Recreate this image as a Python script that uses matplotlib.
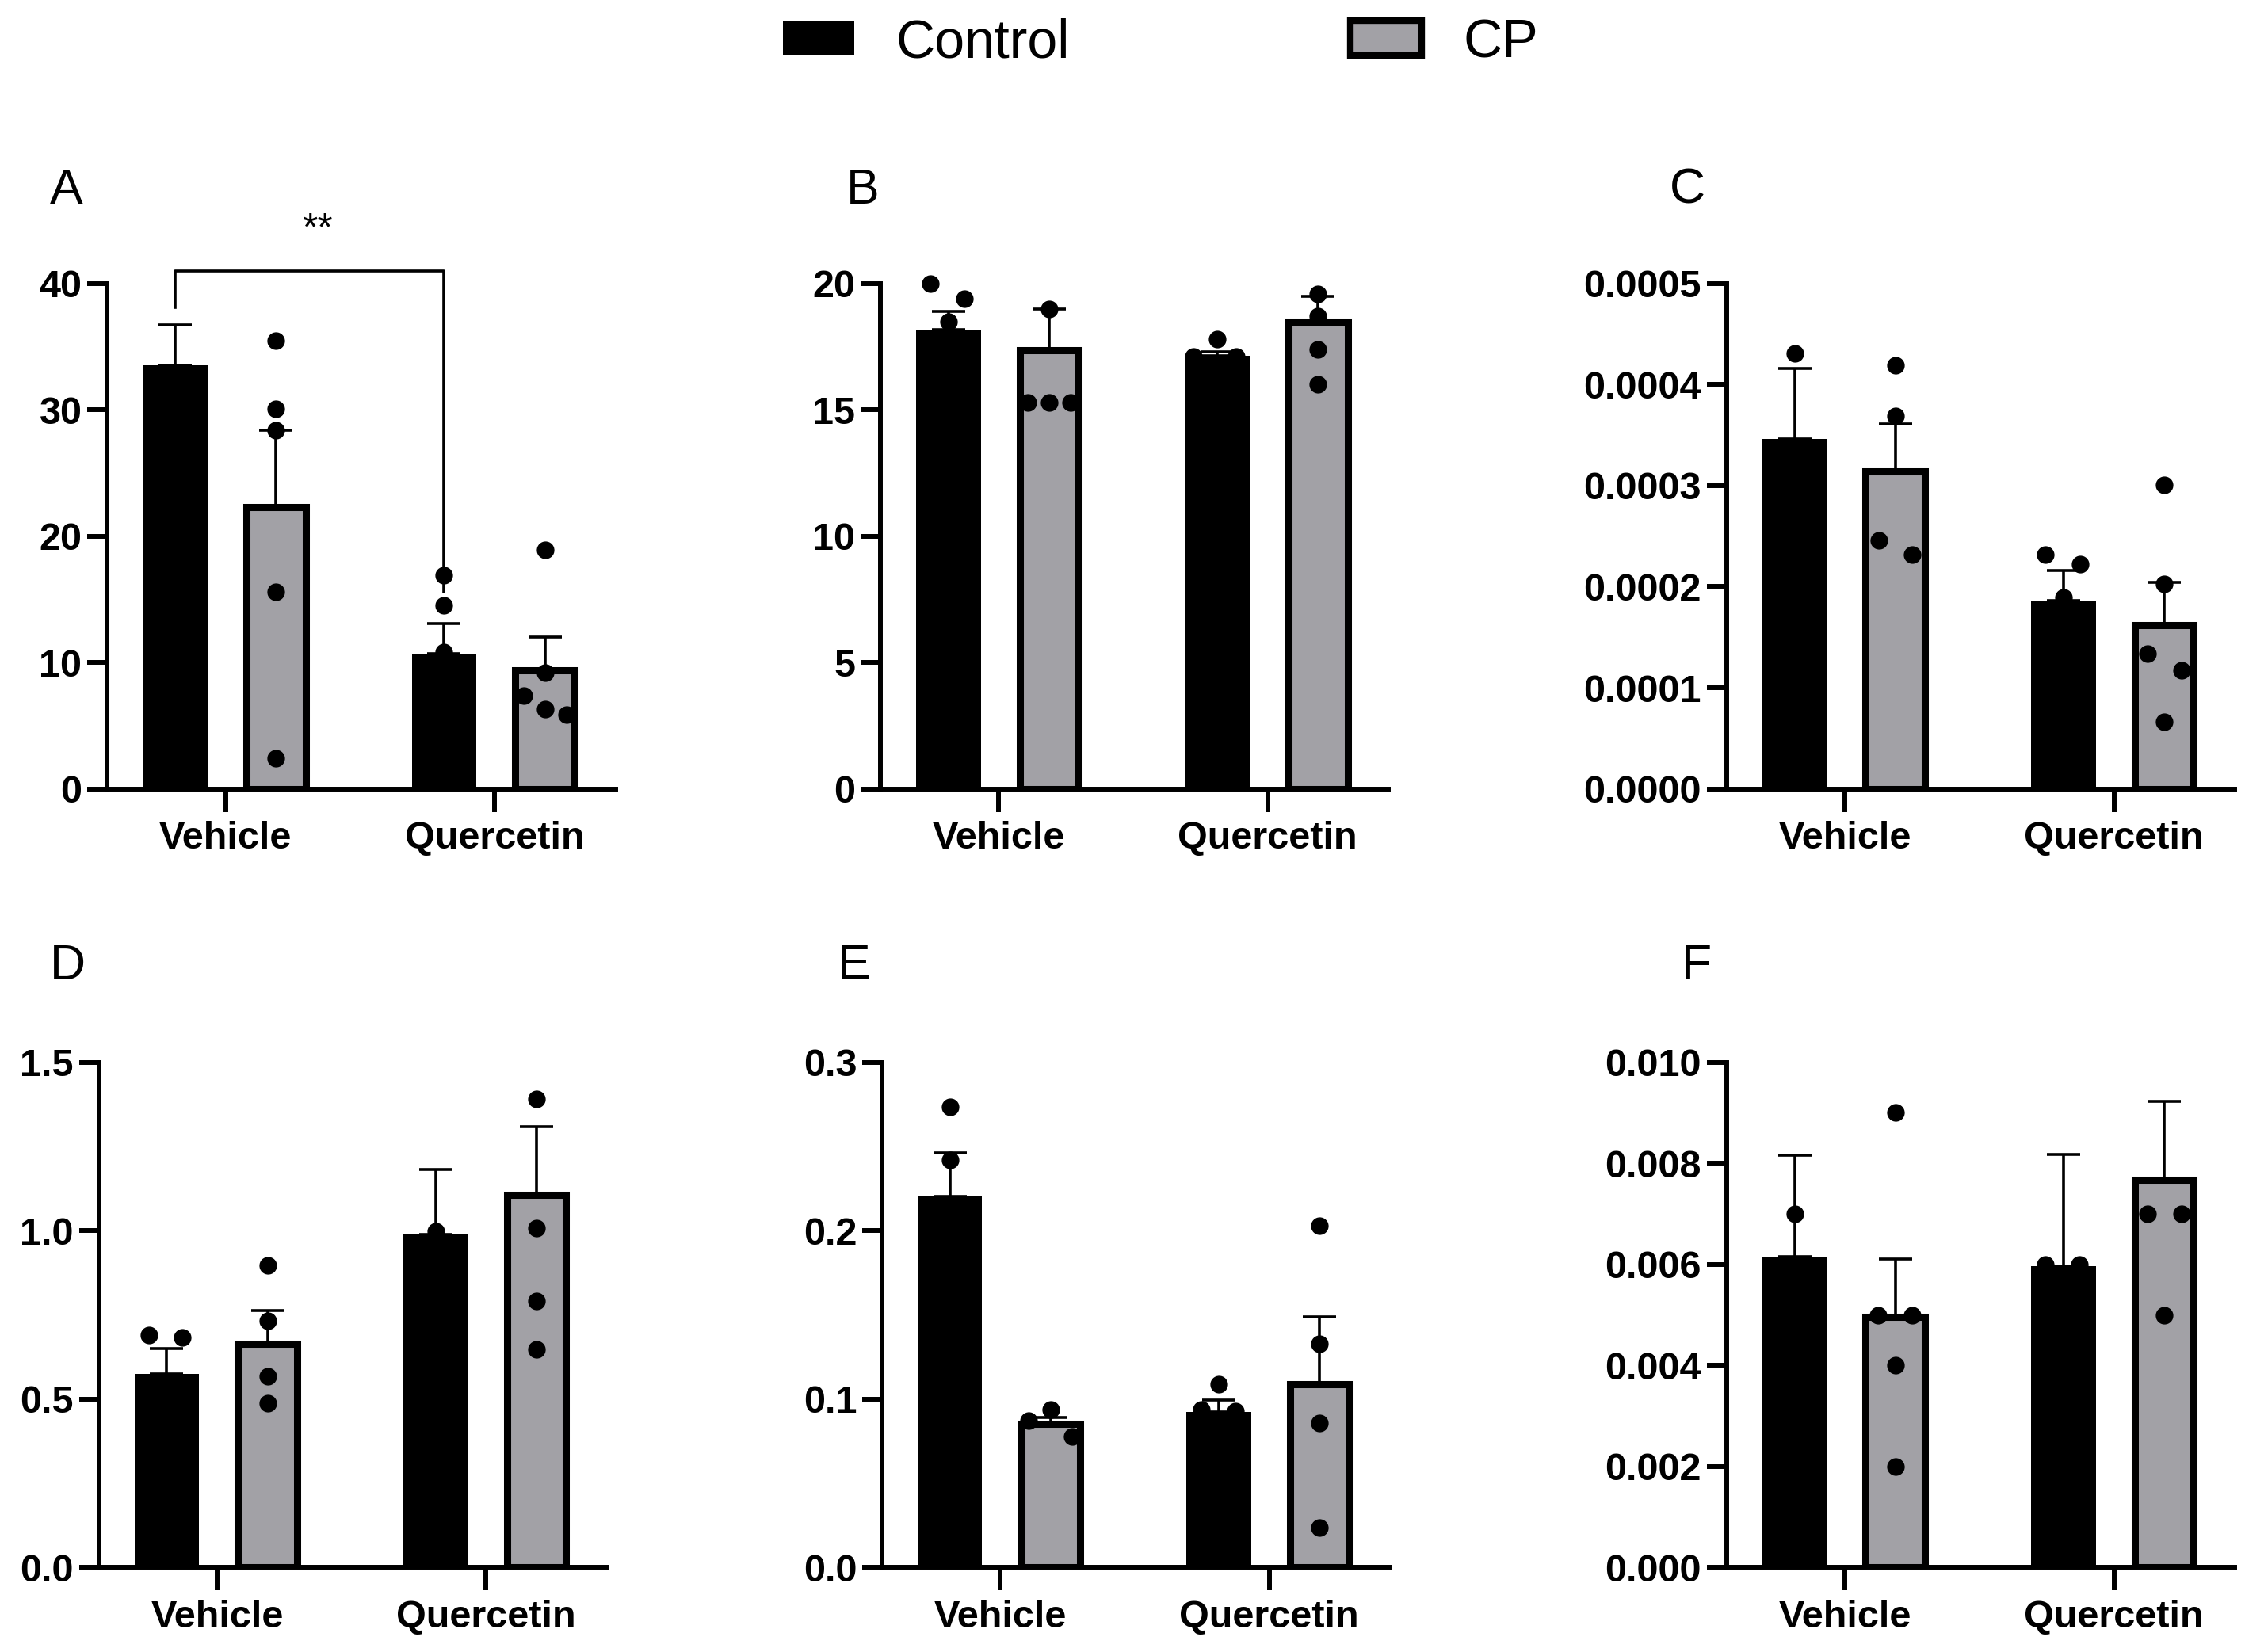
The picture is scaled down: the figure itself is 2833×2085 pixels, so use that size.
import matplotlib
matplotlib.use("Agg")
import matplotlib.pyplot as plt
from matplotlib.patches import Patch
from matplotlib.ticker import FormatStrFormatter
import numpy as np

plt.rcParams['font.family'] = ['Liberation Sans', 'DejaVu Sans']

black = '#000000'
grey = '#a2a1a6'

groups = ['Vehicle', 'Quercetin']
series = ['Control', 'CP']

# means and SEM per panel: [Vehicle, Quercetin]
ctrl_mean = {
    'A': [33.5, 10.7], 'B': [18.16, 17.13], 'C': [0.000346, 0.000186],
    'D': [0.574, 0.989], 'E': [0.2204, 0.0926], 'F': [0.00616, 0.00597],
}
ctrl_sem = {
    'A': [3.2, 2.4], 'B': [0.74, 0.17], 'C': [0.000070, 0.000030],
    'D': [0.076, 0.193], 'E': [0.0256, 0.0069], 'F': [0.00200, 0.00221],
}
cp_mean = {
    'A': [22.3, 9.4], 'B': [17.35, 18.5], 'C': [0.000314, 0.000162],
    'D': [0.664, 1.106], 'E': [0.0852, 0.109], 'F': [0.00496, 0.00768],
}
cp_sem = {
    'A': [6.1, 2.6], 'B': [1.65, 1.0], 'C': [0.000047, 0.000042],
    'D': [0.099, 0.203], 'E': [0.0038, 0.040], 'F': [0.00115, 0.00154],
}

# individual points for each bar: order CV, CPV, CQ, CPQ
pts = {
    'A': [[], [35.5, 30.1, 28.4, 15.6, 2.4], [16.9, 14.5, 10.8],
          [18.9, 9.2, 7.4, 6.3, 5.9]],
    'B': [[20.0, 19.4, 18.5], [19.0, 15.3, 15.3, 15.3], [17.8, 17.1, 17.1],
          [19.6, 18.7, 17.4, 16.0]],
    'C': [[0.000431], [0.000419, 0.000369, 0.000246, 0.000232],
          [0.000232, 0.000222, 0.000189],
          [0.000301, 0.000203, 0.000134, 0.000117, 0.000066]],
    'D': [[0.691, 0.684], [0.896, 0.733, 0.567, 0.488], [0.998],
          [1.392, 1.007, 0.792, 0.647]],
    'E': [[0.2737, 0.2419], [0.094, 0.087, 0.078], [0.109, 0.094, 0.093],
          [0.203, 0.1327, 0.0857, 0.0235]],
    'F': [[0.007], [0.009, 0.005, 0.005, 0.004, 0.002], [0.006, 0.006],
          [0.007, 0.007, 0.005]],
}
# horizontal jitter of the points
jit = {
    'A': [[], [0, 0, 0, 0, 0], [0, 0, 0], [0, 0, -0.08, 0, 0.08]],
    'B': [[-0.066, 0.059, 0], [0, -0.08, 0, 0.08], [0, -0.09, 0.07], [0, 0, 0, 0]],
    'C': [[0], [0, 0, -0.061, 0.063], [-0.067, 0.061, 0], [0, 0, -0.061, 0.065, 0]],
    'D': [[-0.066, 0.059], [0, 0, 0, 0], [0], [0, 0, 0, 0]],
    'E': [[0, 0], [0, -0.082, 0.079], [0, -0.064, 0.061], [0, 0, 0, 0]],
    'F': [[0], [0, -0.065, 0.063, 0, 0], [-0.067, 0.06], [-0.061, 0.065, 0]],
}

yticks = {
    'A': np.arange(0, 41, 10), 'B': np.arange(0, 21, 5),
    'C': np.linspace(0, 0.0005, 6), 'D': np.linspace(0, 1.5, 4),
    'E': np.linspace(0, 0.3, 4), 'F': np.linspace(0, 0.010, 6),
}
yfmt = {'A': '%d', 'B': '%d', 'C': '%.4f', 'D': '%.1f', 'E': '%.1f', 'F': '%.3f'}

# axes placement (figure fractions)
pos = {
    'A': [0.0478, 0.5225, 0.2264, 0.3059],
    'B': [0.3922, 0.5225, 0.2264, 0.3059],
    'C': [0.7691, 0.5225, 0.2264, 0.3059],
    'D': [0.0440, 0.0511, 0.2264, 0.3059],
    'E': [0.3929, 0.0511, 0.2264, 0.3059],
    'F': [0.7691, 0.0511, 0.2264, 0.3059],
}
letter_pos = {
    'A': (0.0223, 0.8847), 'B': (0.3770, 0.8847), 'C': (0.7436, 0.8847),
    'D': (0.0223, 0.4150), 'E': (0.3730, 0.4150), 'F': (0.7490, 0.4150),
}

fig = plt.figure(figsize=(28.33, 20.85), dpi=100)

off = 0.1875
w = 0.24
x = np.arange(len(groups))

for key in ['A', 'B', 'C', 'D', 'E', 'F']:
    ax = fig.add_axes(pos[key])
    xc = x - off
    xp = x + off
    # error bars (upper only)
    ax.errorbar(xc, ctrl_mean[key], yerr=[np.zeros(2), ctrl_sem[key]], fmt='none',
                ecolor='black', elinewidth=2.6, capsize=15, capthick=2.6, zorder=1)
    ax.errorbar(xp, cp_mean[key], yerr=[np.zeros(2), cp_sem[key]], fmt='none',
                ecolor='black', elinewidth=2.6, capsize=15, capthick=2.6, zorder=1)
    ax.bar(xc, ctrl_mean[key], w, color=black, edgecolor=black, linewidth=0, zorder=2)
    ax.bar(xp, cp_mean[key], w - 0.02, color=grey, edgecolor=black, linewidth=6.5, zorder=2)

    centres = [xc[0], xp[0], xc[1], xp[1]]
    for c, vals, js in zip(centres, pts[key], jit[key]):
        if len(vals) == 0:
            continue
        ax.plot(c + np.array(js), vals, 'o', color='black', markersize=15,
                zorder=4, clip_on=False)

    ax.set_xlim(-0.44, 1.45)
    ax.set_ylim(0, yticks[key][-1])
    ax.set_yticks(yticks[key])
    ax.yaxis.set_major_formatter(FormatStrFormatter(yfmt[key]))
    ax.set_xticks(x)
    ax.set_xticklabels(groups)
    for sp in ['top', 'right']:
        ax.spines[sp].set_visible(False)
    for sp in ['left', 'bottom']:
        ax.spines[sp].set_linewidth(4.3)
    ax.tick_params(axis='y', length=18, width=4.3, labelsize=35, pad=5)
    ax.tick_params(axis='x', length=21, width=4.3, labelsize=35, pad=8)
    for lab in ax.get_xticklabels() + ax.get_yticklabels():
        lab.set_fontweight('bold')

    fig.text(letter_pos[key][0], letter_pos[key][1], key, fontsize=45,
             ha='left', va='center')

    if key == 'A':
        # significance bracket
        ax.plot([xc[0], xc[0], xc[1], xc[1]], [38.1, 41.0, 41.0, 15.6],
                color='black', linewidth=2.6, clip_on=False, zorder=3)
        ax.text((xc[0] + xc[1]) / 2 + 0.03, 44.2, '**', fontsize=36, ha='center',
                va='center')

handles = [Patch(facecolor=black, edgecolor=black, linewidth=0),
           Patch(facecolor=grey, edgecolor=black, linewidth=6)]
fig.legend(handles, series, loc='center', bbox_to_anchor=(0.517, 0.974), ncol=2,
           frameon=False, fontsize=49, handlelength=1.33, handleheight=0.62,
           handletextpad=0.77, columnspacing=5.2)

fig.savefig('out.png', dpi=100)
